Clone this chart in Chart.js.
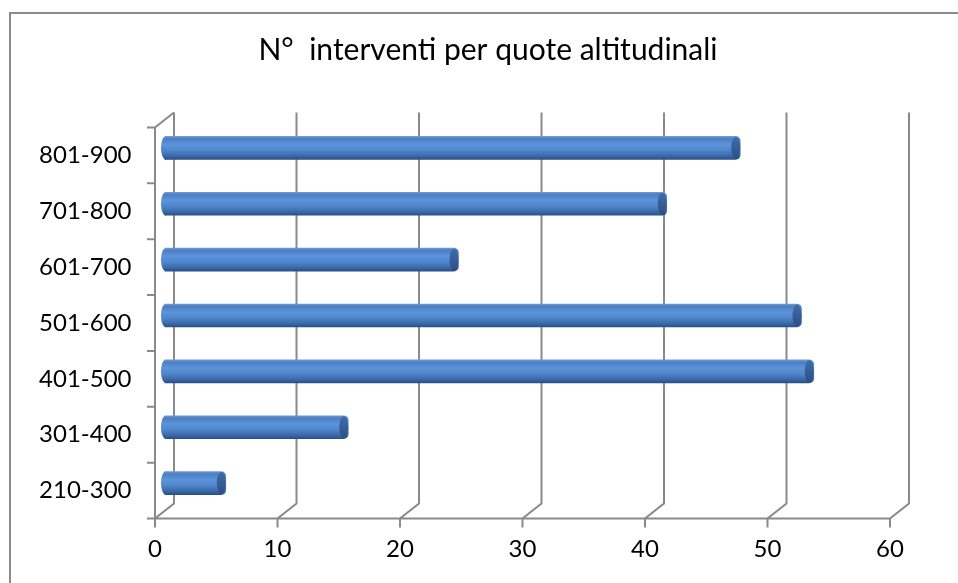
<!DOCTYPE html>
<html>
<head>
<meta charset="utf-8">
<script src="https://cdn.jsdelivr.net/npm/chart.js@4.4.1/dist/chart.umd.min.js"></script>
<style>
  html, body { margin: 0; padding: 0; background: #fff; }
  #wrap { width: 958px; height: 583px; position: relative; }
</style>
</head>
<body>
<div id="wrap"><canvas id="myChart" width="958" height="583"></canvas></div>
<script>
const titleText = 'N°  interventi per quote altitudinali';
const quote = ['210-300', '301-400', '401-500', '501-600', '601-700', '701-800', '801-900'];
const interventi = [5, 15, 53, 52, 24, 41, 47];
const xTicks = [0, 10, 20, 30, 40, 50, 60];

// half depth of the fake 3d box (bars sit in the middle)
const DX = 9.5;
const DY = 7.5;
const lineColor = '#8a8a8a';
const BAR_H = 23;

function barGradient(c, y) {
  const g = c.createLinearGradient(0, y - BAR_H / 2, 0, y + BAR_H / 2);
  g.addColorStop(0, '#6e9ad6');
  g.addColorStop(0.1, '#4c7ec2');
  g.addColorStop(0.35, '#5d93da');
  g.addColorStop(0.6, '#4f86cc');
  g.addColorStop(0.85, '#3a69a8');
  g.addColorStop(1, '#2b4f86');
  return g;
}

const walls = {
  id: 'walls',
  beforeDraw(chart) {
    const c = chart.ctx;
    c.save();
    c.fillStyle = '#fff';
    c.fillRect(0, 0, chart.width, chart.height);
    c.strokeStyle = lineColor;
    c.lineWidth = 2;
    c.strokeRect(10, 13, 1200, 1200);
    // title, centred like the original (not on the canvas centre)
    c.fillStyle = '#000';
    c.font = '30px Lato';
    c.textAlign = 'center';
    c.textBaseline = 'middle';
    c.fillText(titleText, 488, 50);
    c.restore();
  },
  beforeDatasetsDraw(chart) {
    const c = chart.ctx;
    const xs = chart.scales.x;
    const a = chart.chartArea;
    const fBot = a.bottom + DY, bBot = a.bottom - DY;
    const fTop = a.top + DY, bTop = a.top - DY;
    c.save();
    c.strokeStyle = lineColor;
    c.lineWidth = 2;
    c.beginPath();
    // floor front edge
    c.moveTo(xs.getPixelForValue(0) - DX, fBot);
    c.lineTo(xs.getPixelForValue(60) - DX, fBot);
    // left wall front edge + top diagonal
    c.moveTo(xs.getPixelForValue(0) - DX, fBot);
    c.lineTo(xs.getPixelForValue(0) - DX, fTop);
    c.lineTo(xs.getPixelForValue(0) + DX, bTop);
    xTicks.forEach(v => {
      const x = xs.getPixelForValue(v);
      c.moveTo(x - DX, fBot + 9);
      c.lineTo(x - DX, fBot);
      c.lineTo(x + DX, bBot);
      c.lineTo(x + DX, bTop);
    });
    // category tick marks on the front plane
    const n = quote.length;
    for (let k = 0; k <= n; k++) {
      const y = fTop + k * (a.bottom - a.top) / n;
      c.moveTo(xs.getPixelForValue(0) - DX - 8, y);
      c.lineTo(xs.getPixelForValue(0) - DX, y);
    }
    c.stroke();
    c.restore();
  },
  afterDatasetsDraw(chart) {
    const c = chart.ctx;
    const meta = chart.getDatasetMeta(0);
    c.save();
    meta.data.forEach(el => {
      const h = el.height / 2;
      // rounded left end, overlapping the bar to hide the seam
      c.fillStyle = barGradient(c, el.y);
      c.beginPath();
      c.ellipse(el.base + 1, el.y, 4.5, h, 0, 0, Math.PI * 2);
      c.fill();
      // darker cap on the right end
      const g = c.createLinearGradient(0, el.y - h, 0, el.y + h);
      g.addColorStop(0, '#416ca8');
      g.addColorStop(1, '#2c4f84');
      c.fillStyle = g;
      c.beginPath();
      c.ellipse(el.x - 4.5, el.y, 4.5, h - 0.5, 0, 0, Math.PI * 2);
      c.fill();
    });
    c.restore();
  }
};

function cylinderFill(context) {
  const chart = context.chart;
  if (!chart.chartArea) return '#4f81bd';
  return barGradient(chart.ctx, chart.scales.y.getPixelForValue(context.dataIndex));
}

function barChart() {
  const ctx = document.getElementById('myChart');
  new Chart(ctx, {
    type: 'bar',
    data: {
      labels: quote,
      datasets: [{
        label: 'interventi',
        data: interventi,
        backgroundColor: cylinderFill,
        borderWidth: 0,
        borderSkipped: false,
        borderRadius: { topLeft: 0, bottomLeft: 0, topRight: 5, bottomRight: 5 },
        barThickness: BAR_H
      }]
    },
    options: {
      indexAxis: 'y',
      responsive: false,
      animation: false,
      layout: { padding: { top: 120, right: 58.5, left: 0, bottom: 0 } },
      scales: {
        x: {
          min: 0,
          max: 60,
          ticks: { stepSize: 10, padding: 24, labelOffset: -DX, color: '#000',
                   font: { family: 'Lato', size: 24 } },
          grid: { display: false, drawTicks: false },
          border: { display: false },
          afterFit: s => { s.height = 72; }
        },
        y: {
          reverse: true,
          ticks: { padding: 33, labelOffset: DY, color: '#000',
                   font: { family: 'Lato', size: 24 } },
          grid: { display: false, drawTicks: false },
          border: { display: false },
          afterFit: s => { s.width = 164.5; }
        }
      },
      plugins: {
        legend: { display: false },
        tooltip: { enabled: false },
        title: { display: false }
      }
    },
    plugins: [walls]
  });
}

barChart();
</script>
</body>
</html>
